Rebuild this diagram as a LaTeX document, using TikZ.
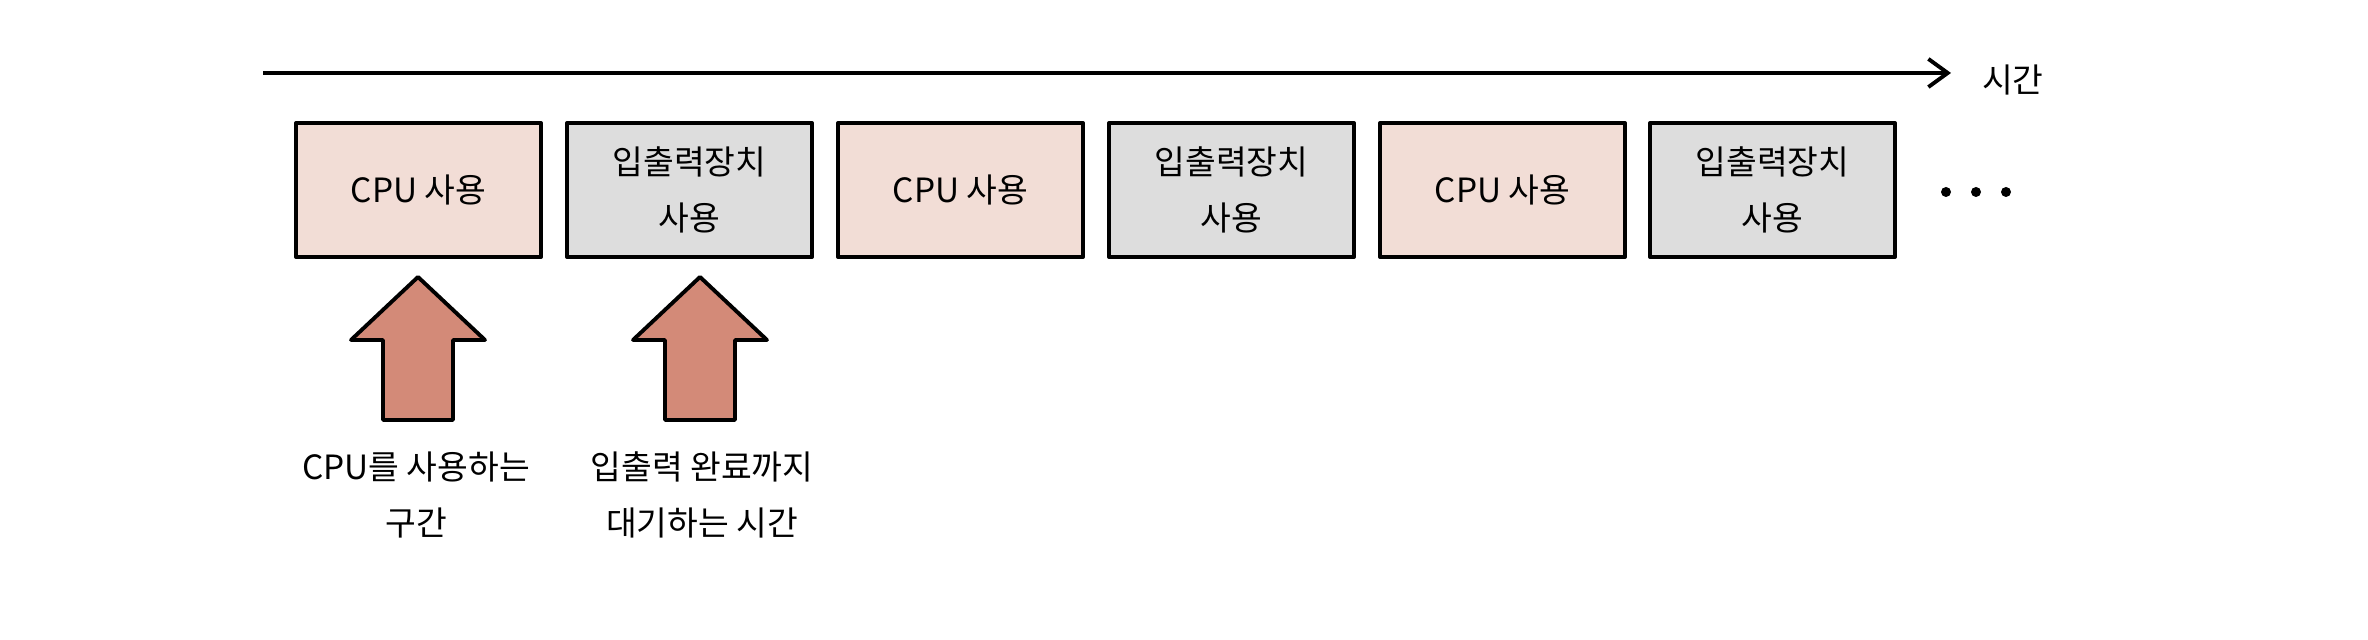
\documentclass[tikz,border=0pt]{standalone}
\usepackage{fontspec}
\newfontfamily\krfont{Noto Sans CJK KR}
\usetikzlibrary{arrows.meta}
\definecolor{cpufill}{HTML}{F2DDD6}
\definecolor{iofill}{HTML}{DDDDDD}
\definecolor{upfill}{HTML}{D38A78}

\begin{document}
\begin{tikzpicture}[x=0.01cm,y=0.01cm,font=\krfont\fontsize{9.5}{16}\selectfont,line width=1.1pt,line join=round,
	box/.style={draw,minimum width=2.45cm,minimum height=1.34cm,align=center,inner sep=0pt},
	cpubox/.style={box,fill=cpufill},
	iobox/.style={box,fill=iofill},
	note/.style={align=center}]
	\useasboundingbox (0,0) rectangle (2368,640);
	% time axis
	\coordinate (t0) at (263,567);
	\coordinate (t1) at (1951,567);
	\draw[-{Straight Barb[length=5.5pt,width=8pt]}] (t0) -- (t1) node[right=5pt,yshift=-2pt] (time) {시간};
	% boxes
	\node[cpubox] (cpu1) at (418.5,450) {CPU 사용};
	\node[iobox] (io1) at (689.5,450) {입출력장치\\사용};
	\node[cpubox] (cpu2) at (960.5,450) {CPU 사용};
	\node[iobox] (io2) at (1231.5,450) {입출력장치\\사용};
	\node[cpubox] (cpu3) at (1502.5,450) {CPU 사용};
	\node[iobox] (io3) at (1772.5,450) {입출력장치\\사용};
	\foreach \dx in {1946,1976,2006}
		\fill (\dx,448) circle (5);
	% block arrows
	\foreach \cx in {418,700}
		\draw[fill=upfill] ({\cx-35},220) -- ({\cx-35},300) -- ({\cx-67},300) -- (\cx,363)
			-- ({\cx+67},300) -- ({\cx+35},300) -- ({\cx+35},220) -- cycle;
	% notes
	\node[note] (cpunote) at (416,145) {CPU를 사용하는\\구간};
	\node[note] (ionote) at (702,145) {입출력 완료까지\\대기하는 시간};
\end{tikzpicture}
\end{document}
